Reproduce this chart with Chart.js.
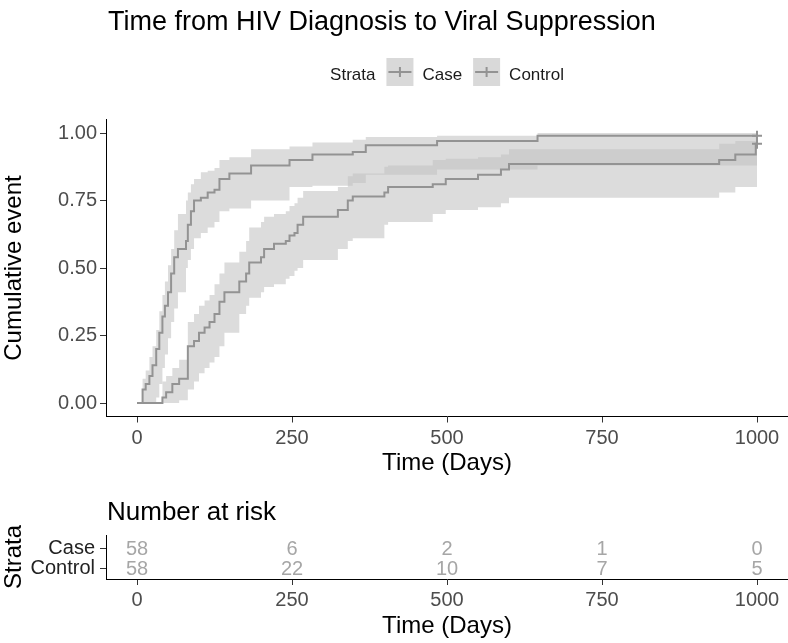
<!DOCTYPE html>
<html lang="en">
<head>
  <meta charset="UTF-8">
  <title>Time from HIV Diagnosis to Viral Suppression</title>
  <script src="https://cdn.jsdelivr.net/npm/chart.js"></script>
  <style>
    html, body{margin: 0; background: #fff; overflow: hidden;}
    #wrap{position: relative; width: 788px; height: 643px; overflow: hidden;}
    #km{position: absolute; left: 0; top: 0;}
    #risk{position: absolute; left: 0; top: 490px;}
  </style>
</head>
<body>
<div id="wrap">
  <!-- 7px wider: the censor marks reserve that much padding on the right -->
  <canvas id="km" width="795" height="490"></canvas>
  <canvas id="risk" width="788" height="153"></canvas>
</div>
<script>
  const FONT = '"Liberation Sans", Arial, Helvetica, sans-serif';
  Chart.defaults.font.family = FONT;
  Chart.defaults.color = '#4d4d4d';

  // ---- values ----
  const strata = ['Case', 'Control'];
  const xTicks = [0, 250, 500, 750, 1000];
  const yTicks = [0, 0.25, 0.5, 0.75, 1.0];

  // Case: step times (days), cumulative event, 95% band
  const caseTime  = [0, 9, 14, 20, 25, 31, 36, 41, 45, 50, 55, 60, 66, 79, 82, 87, 92, 103, 114, 125, 133, 149, 184, 246, 283, 348, 369, 484, 646, 1000];
  const caseEst   = [0, 0.05, 0.07, 0.10, 0.14, 0.20, 0.26, 0.32, 0.36, 0.41, 0.48, 0.54, 0.57, 0.60, 0.66, 0.71, 0.75, 0.76, 0.78, 0.79, 0.83, 0.85, 0.88, 0.90, 0.92, 0.93, 0.955, 0.97, 0.99, 0.99];
  const caseUpper = [0, 0.09, 0.12, 0.17, 0.21, 0.27, 0.34, 0.40, 0.45, 0.51, 0.57, 0.64, 0.70, 0.75, 0.78, 0.81, 0.83, 0.855, 0.86, 0.87, 0.90, 0.91, 0.94, 0.95, 0.965, 0.975, 0.985, 0.99, 1.0, 1.0];
  const caseLower = [0, 0, 0, 0, 0, 0.02, 0.07, 0.13, 0.18, 0.24, 0.30, 0.35, 0.41, 0.50, 0.53, 0.57, 0.61, 0.63, 0.65, 0.67, 0.71, 0.72, 0.75, 0.80, 0.805, 0.815, 0.845, 0.865, 0.88, 0.88];

  // Control
  const ctrlTime  = [0, 41, 47, 57, 68, 82, 92, 100, 109, 117, 125, 133, 141, 165, 176, 181, 200, 205, 221, 240, 246, 254, 259, 268, 324, 340, 348, 399, 405, 477, 498, 550, 587, 600, 939, 965, 998, 1000];
  const ctrlEst   = [0, 0.02, 0.04, 0.07, 0.09, 0.21, 0.23, 0.26, 0.28, 0.30, 0.33, 0.375, 0.41, 0.45, 0.48, 0.52, 0.54, 0.57, 0.59, 0.60, 0.62, 0.63, 0.66, 0.69, 0.715, 0.75, 0.765, 0.78, 0.80, 0.81, 0.83, 0.845, 0.865, 0.885, 0.90, 0.92, 0.96, 0.96];
  const ctrlUpper = [0, 0.08, 0.10, 0.13, 0.16, 0.30, 0.33, 0.36, 0.38, 0.40, 0.44, 0.48, 0.52, 0.56, 0.60, 0.65, 0.67, 0.69, 0.70, 0.71, 0.73, 0.74, 0.76, 0.785, 0.80, 0.84, 0.85, 0.875, 0.88, 0.90, 0.905, 0.91, 0.92, 0.94, 0.96, 0.97, 0.99, 0.99];
  const ctrlLower = [0, 0, 0, 0, 0.01, 0.05, 0.08, 0.11, 0.13, 0.15, 0.17, 0.21, 0.26, 0.33, 0.36, 0.39, 0.41, 0.43, 0.44, 0.46, 0.47, 0.49, 0.50, 0.53, 0.57, 0.60, 0.61, 0.66, 0.67, 0.70, 0.715, 0.725, 0.74, 0.76, 0.78, 0.80, 0.80, 0.80];

  const caseCensor = [1000];
  const ctrlCensor = [1000];

  // number at risk
  const riskTimes = [0, 250, 500, 750, 1000];
  const caseRisk  = [58, 6, 2, 1, 0];
  const ctrlRisk  = [58, 22, 10, 7, 5];

  const lineGrey = '#939393';
  const bandGrey = 'rgba(194,194,194,0.57)';

  function pts(t, v){ return t.map((x, i) => ({x: x, y: v[i]})); }
  function stepAt(t, v, x){ let y = v[0]; t.forEach((tt, i) => { if(tt <= x) y = v[i]; }); return y; }

  function kmLine(label, t, v){
    return {label: label, data: pts(t, v), stepped: true, borderColor: lineGrey, borderWidth: 2,
            pointRadius: 0, fill: false, order: 0};
  }
  function band(label, t, v, fill){
    return {label: label, data: pts(t, v), stepped: true, borderColor: 'transparent', borderWidth: 0,
            pointRadius: 0, fill: fill, backgroundColor: bandGrey, order: 2};
  }

  const censorPts = caseCensor.map(x => ({x: x, y: stepAt(caseTime, caseEst, x)}))
    .concat(ctrlCensor.map(x => ({x: x, y: stepAt(ctrlTime, ctrlEst, x)})));

  // shared x axis settings
  function xAxis(titlePad, tickPad, h){
    return {
      type: 'linear', min: -50, max: 1050,
      afterBuildTicks: s => { s.ticks = xTicks.map(v => ({value: v})); },
      afterFit: s => { s.height = h; },
      grid: {display: true, drawOnChartArea: false, drawTicks: true, tickLength: 6, color: '#333'},
      border: {display: true, color: '#000', width: 1},
      ticks: {font: {size: 20}, color: '#4d4d4d', padding: tickPad, maxRotation: 0, autoSkip: false,
              callback: v => String(v)},
      title: {display: true, text: 'Time (Days)', color: '#000', font: {size: 24}, padding: {top: 0, bottom: titlePad}}
    };
  }

  // title + legend
  const header = {
    id: 'header',
    afterDraw(chart){
      const {ctx, chartArea} = chart;
      ctx.save();
      ctx.fillStyle = '#000';
      ctx.textAlign = 'left';
      ctx.textBaseline = 'alphabetic';
      ctx.font = '27px ' + FONT;
      ctx.fillText('Time from HIV Diagnosis to Viral Suppression', 108, 30);

      ctx.font = '17px ' + FONT;
      ctx.fillStyle = '#1a1a1a';
      const box = 27;
      const wTitle = ctx.measureText('Strata').width;
      const ws = strata.map(s => ctx.measureText(s).width);
      const total = wTitle + ws.reduce((a, w) => a + 11 + box + 9 + w, 0);
      let x = (chartArea.left + chartArea.right) / 2 - total / 2;
      ctx.fillText('Strata', x, 80);
      x += wTitle;
      strata.forEach((s, i) => {
        x += 11;
        ctx.fillStyle = '#d9d9d9';
        ctx.fillRect(x, 58, box, 28);
        ctx.strokeStyle = lineGrey;
        ctx.lineWidth = 2;
        ctx.beginPath();
        ctx.moveTo(x + 2, 72); ctx.lineTo(x + box - 2, 72);
        ctx.moveTo(x + box / 2, 67); ctx.lineTo(x + box / 2, 77);
        ctx.stroke();
        x += box + 9;
        ctx.fillStyle = '#1a1a1a';
        ctx.fillText(s, x, 80);
        x += ws[i];
      });
      ctx.restore();
    }
  };

  new Chart(document.getElementById('km'), {
    type: 'line',
    data: {
      datasets: [
        kmLine('Case', caseTime, caseEst),
        kmLine('Control', ctrlTime, ctrlEst),
        {label: 'censor', data: censorPts, showLine: false, pointStyle: 'cross', pointRadius: 5,
         pointBorderColor: lineGrey, pointBorderWidth: 2, borderColor: lineGrey, order: 0},
        band('Case upper', caseTime, caseUpper, '+1'),
        band('Case lower', caseTime, caseLower, false),
        band('Control upper', ctrlTime, ctrlUpper, '+1'),
        band('Control lower', ctrlTime, ctrlLower, false)
      ]
    },
    options: {
      responsive: false,
      animation: false,
      events: [],
      layout: {padding: {top: 119.5, right: 0, left: 0, bottom: 0}},
      plugins: {legend: {display: false}, tooltip: {enabled: false}},
      scales: {
        x: xAxis(12, 4, 73.5),
        y: {
          type: 'linear', min: -0.05, max: 1.05,
          afterBuildTicks: s => { s.ticks = yTicks.map(v => ({value: v})); },
          afterFit: s => { s.width = 106; },
          grid: {display: true, drawOnChartArea: false, drawTicks: true, tickLength: 6, color: '#333'},
          border: {display: true, color: '#000', width: 1},
          ticks: {font: {size: 20}, color: '#4d4d4d', padding: 3, callback: v => Number(v).toFixed(2)},
          title: {display: true, text: 'Cumulative event', color: '#000', font: {size: 24}, padding: {top: 0, bottom: 0}}
        }
      }
    },
    plugins: [header]
  });

  // number at risk table
  const riskText = {
    id: 'riskText',
    afterDatasetsDraw(chart){
      const {ctx} = chart;
      ctx.save();
      ctx.font = '20px ' + FONT;
      ctx.fillStyle = '#a6a6a6';
      ctx.textAlign = 'center';
      ctx.textBaseline = 'middle';
      chart.data.datasets.forEach((ds, di) => {
        chart.getDatasetMeta(di).data.forEach((el, i) => {
          ctx.fillText(String(ds.counts[i]), el.x, el.y + 1);
        });
      });
      ctx.fillStyle = '#000';
      ctx.font = '26px ' + FONT;
      ctx.textAlign = 'left';
      ctx.textBaseline = 'alphabetic';
      ctx.fillText('Number at risk', 107, 30);
      ctx.restore();
    }
  };

  const rowOf = s => strata.length - strata.indexOf(s);

  new Chart(document.getElementById('risk'), {
    type: 'line',
    data: {
      datasets: [
        {label: 'Case', data: riskTimes.map(t => ({x: t, y: rowOf('Case')})), counts: caseRisk, showLine: false, pointRadius: 0},
        {label: 'Control', data: riskTimes.map(t => ({x: t, y: rowOf('Control')})), counts: ctrlRisk, showLine: false, pointRadius: 0}
      ]
    },
    options: {
      responsive: false,
      animation: false,
      events: [],
      layout: {padding: {top: 45, right: 0, left: 0, bottom: 0}},
      plugins: {legend: {display: false}, tooltip: {enabled: false}},
      scales: {
        x: xAxis(2, 3, 64),
        y: {
          type: 'linear', min: 0.475, max: 2.675,
          afterBuildTicks: s => { s.ticks = strata.map(st => ({value: rowOf(st)})); },
          afterFit: s => { s.width = 106; },
          grid: {display: true, drawOnChartArea: false, drawTicks: true, tickLength: 6, color: '#333'},
          border: {display: true, color: '#000', width: 1},
          ticks: {font: {size: 20}, color: '#222', padding: 5,
                  callback: v => strata[strata.length - v]},
          title: {display: true, text: 'Strata', color: '#000', font: {size: 24}, padding: {top: 0, bottom: 0}}
        }
      }
    },
    plugins: [riskText]
  });
</script>
</body>
</html>
